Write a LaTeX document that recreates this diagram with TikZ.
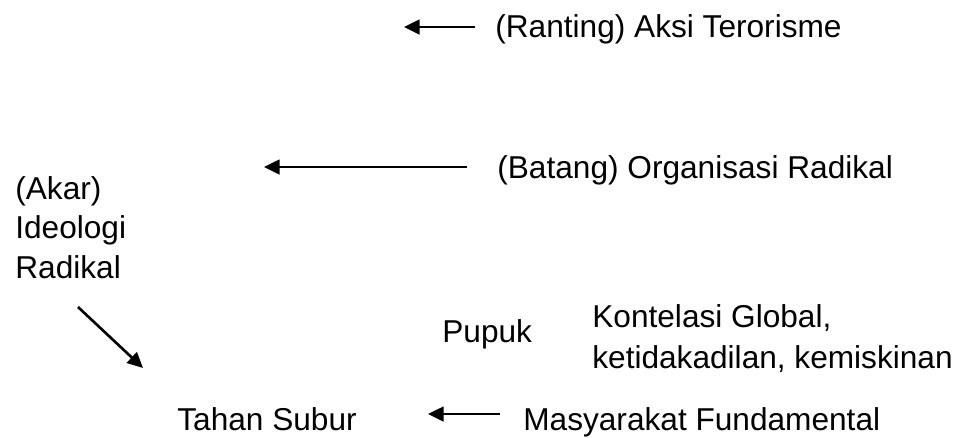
\documentclass[tikz,border=0pt]{standalone}
\usepackage{fontspec}
\setmainfont{Liberation Sans}
\usetikzlibrary{arrows.meta}

\tikzset{
	lbl/.style={anchor=base west, inner sep=0pt, font=\fontsize{18}{21.6}\selectfont},
	arr/.style={line width=1.5pt, -{Triangle[length=0.31cm, width=0.29cm]}}
}

\begin{document}
\begin{tikzpicture}[x=0.02cm, y=-0.02cm]

	\useasboundingbox (0,0) rectangle (959,437);

	% labels
	\node[lbl] (ranting) at (495,37) {(Ranting) Aksi Terorisme};
	\node[lbl] (batang)  at (497,178) {(Batang) Organisasi Radikal};
	\node[lbl] (akar)    at (15,199) {(Akar)};
	\node[lbl] (ideo)    at (15,238.5) {Ideologi};
	\node[lbl] (rad)     at (15,278) {Radikal};
	\node[lbl] (pupuk)   at (442,342) {Pupuk};
	\node[lbl] (global)  at (592,327) {Kontelasi Global,};
	\node[lbl] (miskin)  at (592,368) {ketidakadilan, kemiskinan};
	\node[lbl] (tanah)   at (177,430) {Tahan Subur};
	\node[lbl] (masy)    at (523,430) {Masyarakat Fundamental};

	% arrow ends
	\coordinate (r1) at (475,27);
	\coordinate (r2) at (404,27);
	\coordinate (b1) at (467,167);
	\coordinate (b2) at (264,167);
	\coordinate (a1) at (78,307);
	\coordinate (a2) at (143,368);
	\coordinate (m1) at (500,414);
	\coordinate (m2) at (428,414);

	% arrows
	\draw[arr] (r1) -- (r2);
	\draw[arr] (b1) -- (b2);
	\draw[arr] (a1) -- (a2);
	\draw[arr] (m1) -- (m2);

\end{tikzpicture}
\end{document}
